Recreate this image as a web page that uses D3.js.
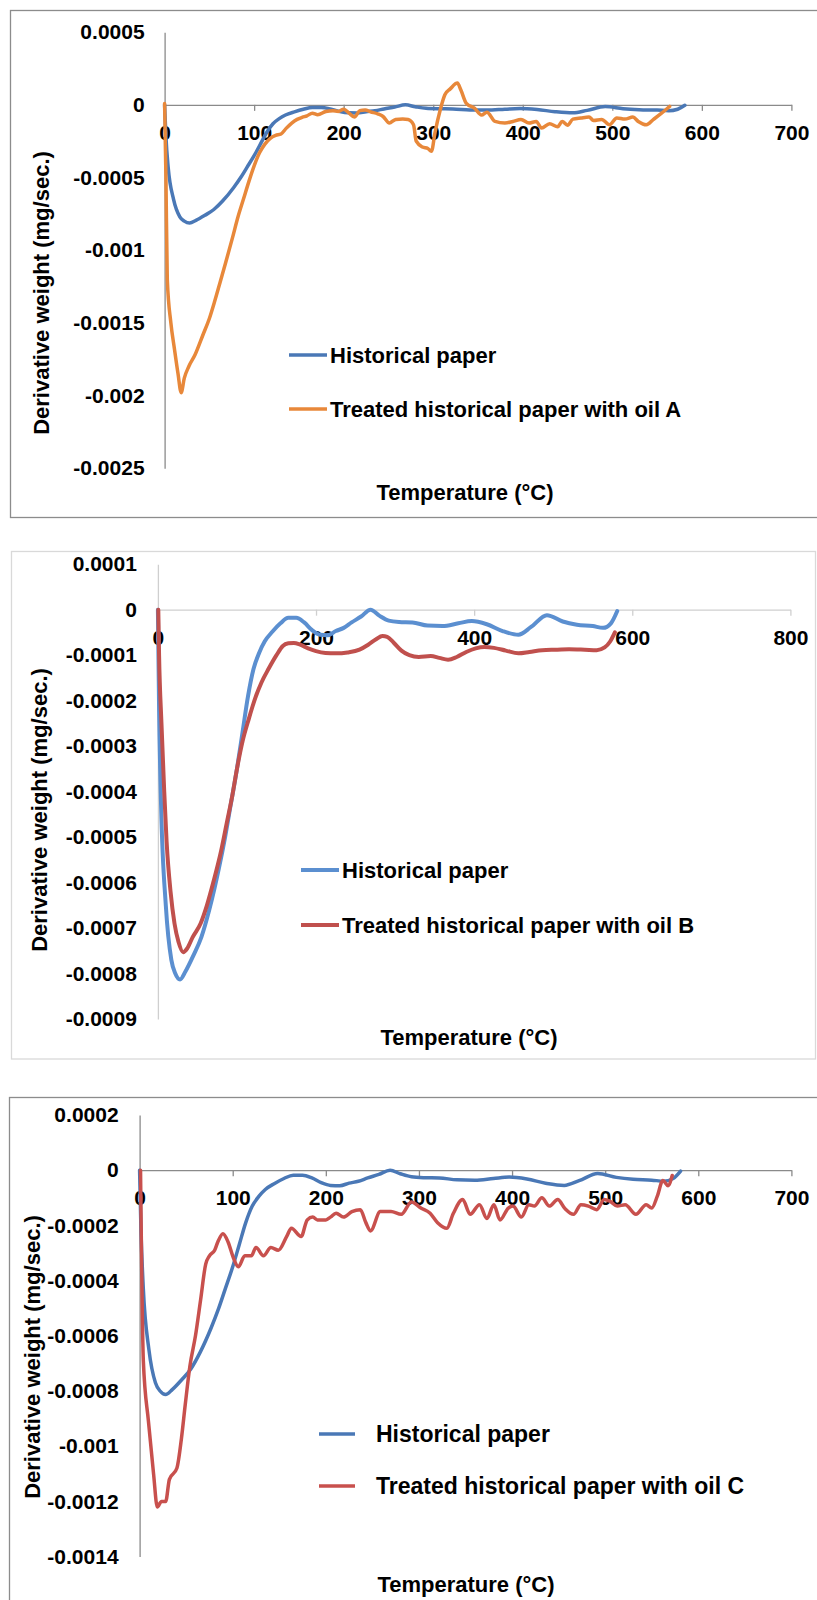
<!DOCTYPE html>
<html>
<head>
<meta charset="utf-8">
<script src="https://cdn.jsdelivr.net/npm/d3@7"></script>
<style>
  html, body { margin: 0; padding: 0; background: #fff; }
  svg text { font-family: "Liberation Sans", Arial, sans-serif; font-weight: bold; fill: #000; }
</style>
</head>
<body>
<svg id="chart" width="817" height="1600"></svg>
<script>
// ---------------- DATA ----------------
// Historical paper (untreated) DTG curve: [temperature °C, derivative weight mg/s]
const historical = [[0,0],[1.5,-0.00022],[4,-0.00043],[10,-0.00065],[17,-0.00077],[22,-0.0008],[28,-0.000813],[35,-0.000795],[45,-0.00076],[55,-0.00072],[65,-0.00066],[77,-0.00057],[85,-0.0005],[92,-0.00043],[100,-0.00035],[107,-0.00027],[114,-0.00019],[121,-0.00013],[128,-0.000095],[135,-0.00007],[145,-0.000048],[155,-0.00003],[165,-0.000018],[175,-0.000018],[185,-0.000028],[195,-0.000045],[205,-0.000055],[215,-0.000056],[225,-0.000047],[235,-0.00004],[245,-0.000028],[257,-0.000015],[269,0],[280,-0.000013],[292,-0.000024],[305,-0.000027],[322,-0.000028],[341,-0.000035],[360,-0.000036],[380,-0.00003],[397,-0.000025],[416,-0.000032],[436,-0.000047],[456,-0.000055],[472,-0.000038],[492,-0.000012],[512,-0.000026],[530,-0.000033],[550,-0.000036],[563,-0.00004],[573,-0.00003],[581,-0.000003]];

// Treated historical paper with oil A
const oilA = [[0,0.00001],[1.5,-0.0005],[3,-0.0012],[7,-0.0015],[11,-0.00168],[15,-0.00185],[18.5,-0.00198],[22,-0.00188],[27,-0.0018],[34,-0.00172],[43,-0.00158],[50,-0.00147],[56,-0.00135],[62,-0.00122],[68,-0.00109],[76,-0.00091],[82,-0.00077],[88,-0.00065],[94,-0.00053],[100,-0.00042],[106,-0.00033],[112,-0.00027],[118,-0.00023],[124,-0.00021],[130,-0.0002],[136,-0.00016],[142,-0.000125],[148,-0.0001],[154,-0.000085],[159,-0.000075],[165,-0.000057],[171,-0.000068],[180,-0.000046],[188,-0.00004],[194,-0.000045],[200,-0.00003],[206,-0.000057],[212,-0.000084],[218,-0.00004],[224,-0.000035],[230,-0.000048],[238,-0.000062],[244,-0.00008],[251,-0.000125],[258,-0.0001],[266,-0.000097],[272,-0.0001],[278,-0.000137],[281,-0.00025],[288,-0.00029],[294,-0.0003],[298,-0.00032],[302,-0.00019],[308,-0.00003],[313,0.00007],[319,0.00011],[327,0.00015],[331,0.0001],[337,0.00001],[346,-0.000023],[354,-0.00007],[360,-0.00005],[369,-0.000114],[380,-0.000125],[389,-0.000114],[398,-0.0001],[407,-0.000125],[415,-0.000114],[421,-0.00016],[430,-0.00013],[439,-0.00015],[444,-0.000114],[450,-0.00014],[456,-0.000098],[465,-0.00009],[474,-0.000084],[479,-0.000107],[488,-0.0001],[497,-0.000137],[505,-0.00009],[514,-0.000098],[523,-0.000084],[529,-0.000114],[538,-0.000137],[546,-0.0001],[555,-0.000057],[564,-0.000011]];

// Treated historical paper with oil B
const oilB = [[0.5,0],[1.5,-0.0001],[4.5,-0.00025],[8,-0.0004],[11,-0.00051],[16,-0.00062],[21,-0.00069],[26,-0.00073],[32,-0.000753],[37,-0.000745],[44,-0.00072],[54,-0.00069],[62,-0.00065],[70,-0.0006],[80,-0.00053],[87,-0.00047],[94,-0.00041],[100,-0.00035],[107,-0.00029],[115,-0.00024],[123,-0.000195],[131,-0.00016],[140,-0.00013],[150,-0.0001],[158,-0.00008],[165,-0.000074],[172,-0.000073],[180,-0.000077],[190,-0.000085],[200,-0.000091],[212,-0.000095],[225,-0.000096],[240,-0.000094],[255,-0.000088],[266,-0.000077],[276,-0.000065],[284,-0.000058],[290,-0.00006],[298,-0.000072],[308,-0.00009],[318,-0.0001],[330,-0.000104],[345,-0.000102],[356,-0.000106],[367,-0.00011],[378,-0.000104],[390,-0.000093],[402,-0.000085],[413,-0.000082],[425,-0.000084],[440,-0.00009],[456,-0.000096],[470,-0.000093],[486,-0.000089],[505,-0.000088],[520,-0.000087],[540,-0.000088],[555,-0.000089],[565,-0.000083],[572,-0.00007],[578,-0.00005]];

// Treated historical paper with oil C
const oilC = [[1,0],[4,-0.00069],[9.5,-0.00091],[15,-0.0011],[19,-0.00122],[23.5,-0.0012],[28,-0.0012],[32,-0.00112],[40,-0.00108],[45,-0.00097],[49,-0.00085],[54,-0.00071],[60,-0.0006],[65.5,-0.00047],[71,-0.00034],[75,-0.00031],[80.6,-0.00029],[84,-0.00026],[89.5,-0.00023],[95,-0.00026],[101,-0.00032],[106,-0.00035],[113,-0.00031],[120,-0.00031],[125,-0.00028],[133,-0.00031],[141,-0.00028],[149,-0.00029],[158,-0.00024],[163,-0.00021],[173.5,-0.00024],[180,-0.00018],[186,-0.00017],[191,-0.00018],[200,-0.00018],[205,-0.00017],[211,-0.000156],[219,-0.00017],[228,-0.00015],[237,-0.000143],[243,-0.00019],[248,-0.00022],[258.5,-0.00015],[270,-0.00015],[281,-0.00016],[292,-0.000115],[302,-0.000137],[312,-0.000156],[320,-0.00019],[330,-0.00021],[337,-0.000156],[347,-0.000106],[355,-0.00016],[365,-0.000125],[373,-0.000175],[380.5,-0.000125],[387,-0.00018],[396,-0.000137],[401,-0.00013],[410,-0.00017],[418,-0.000125],[424,-0.00013],[432,-0.0001],[440,-0.00013],[449,-0.000106],[457,-0.00014],[466,-0.00016],[474,-0.000125],[482,-0.00013],[491,-0.000143],[499,-0.000106],[505,-0.000112],[513,-0.00013],[521.5,-0.000125],[533,-0.00016],[544,-0.000125],[550,-0.000137],[556,-0.000094],[562,-0.000037],[567.5,-0.000056],[572,-0.000019]];

// Tick labels
const xTicks1 = [0,100,200,300,400,500,600,700];
const yTicks1 = [0.0005,0,-0.0005,-0.001,-0.0015,-0.002,-0.0025];
const yLabels1 = ["0.0005","0","-0.0005","-0.001","-0.0015","-0.002","-0.0025"];
const xTicks2 = [0,200,400,600,800];
const yTicks2 = [0.0001,0,-0.0001,-0.0002,-0.0003,-0.0004,-0.0005,-0.0006,-0.0007,-0.0008,-0.0009];
const yLabels2 = ["0.0001","0","-0.0001","-0.0002","-0.0003","-0.0004","-0.0005","-0.0006","-0.0007","-0.0008","-0.0009"];
const xTicks3 = [0,100,200,300,400,500,600,700];
const yTicks3 = [0.0002,0,-0.0002,-0.0004,-0.0006,-0.0008,-0.001,-0.0012,-0.0014];
const yLabels3 = ["0.0002","0","-0.0002","-0.0004","-0.0006","-0.0008","-0.001","-0.0012","-0.0014"];

const seriesNames1 = ["Historical paper","Treated historical paper with oil A"];
const seriesNames2 = ["Historical paper","Treated historical paper with oil B"];
const seriesNames3 = ["Historical paper","Treated historical paper with oil C"];
const xTitle = "Temperature (°C)";
const yTitle = "Derivative weight (mg/sec.)";

// ---------------- DRAW ----------------
const svg = d3.select("#chart");

function drawPanel(c) {
  const g = svg.append("g");
  // frame
  g.append("rect")
    .attr("x", c.frame[0]).attr("y", c.frame[1])
    .attr("width", c.frame[2]).attr("height", c.frame[3])
    .attr("fill", "none").attr("stroke", c.frameColor).attr("stroke-width", 1.3);

  const x = d3.scaleLinear().domain(c.xDomain).range(c.xRange);
  const y = d3.scaleLinear().domain(c.yDomain).range(c.yRange);

  // y axis (labels only, no ticks)
  const yAxis = d3.axisLeft(y).tickValues(c.yTicks)
    .tickFormat((d, i) => c.yLabels[i]).tickSize(0).tickPadding(c.yPad);
  const ya = g.append("g").attr("transform", `translate(${x(0)},0)`).call(yAxis);
  ya.select(".domain").attr("stroke", c.axisColor).attr("stroke-width", 1.3);
  ya.selectAll("text").attr("font-size", c.tickFont)
    .attr("font-family", '"Liberation Sans", Arial, sans-serif').attr("font-weight", "bold").attr("fill", "#000");

  // x axis along y=0
  const xAxis = d3.axisBottom(x).tickValues(c.xTicks).tickFormat(d3.format("d"))
    .tickSize(6).tickSizeOuter(0).tickPadding(14);
  const xa = g.append("g").attr("transform", `translate(0,${y(0)})`).call(xAxis);
  xa.select(".domain").attr("stroke", c.axisColor).attr("stroke-width", 1.3);
  xa.selectAll(".tick line").attr("stroke", c.axisColor).attr("stroke-width", 1.3);
  xa.selectAll("text").attr("font-size", c.tickFont)
    .attr("font-family", '"Liberation Sans", Arial, sans-serif').attr("font-weight", "bold").attr("fill", "#000");

  // series lines
  const line = d3.line().x(d => x(d[0])).y(d => y(d[1])).curve(d3.curveMonotoneX);
  c.series.forEach(s => {
    g.append("path").datum(s.data)
      .attr("d", line).attr("fill", "none")
      .attr("stroke", s.color).attr("stroke-width", c.lineWidth)
      .attr("stroke-linejoin", "round").attr("stroke-linecap", "round");
  });

  // legend
  c.series.forEach((s, i) => {
    const ly = c.legend.y[i];
    g.append("line")
      .attr("x1", c.legend.x1).attr("x2", c.legend.x2)
      .attr("y1", ly).attr("y2", ly)
      .attr("stroke", s.color).attr("stroke-width", c.lineWidth);
    g.append("text")
      .attr("x", c.legend.tx).attr("y", ly).attr("dy", "0.35em")
      .attr("font-size", c.legendFont).text(s.name);
  });

  // axis titles
  g.append("text").attr("x", c.xTitle[0]).attr("y", c.xTitle[1]).attr("dy", "0.35em")
    .attr("text-anchor", "middle").attr("font-size", c.titleFont).text(xTitle);
  g.append("text")
    .attr("transform", `translate(${c.yTitle[0]},${c.yTitle[1]}) rotate(-90)`)
    .attr("dy", "0.35em").attr("text-anchor", "middle")
    .attr("font-size", c.titleFont).text(yTitle);
}

// Panel 1: oil A
drawPanel({
  frame: [10.5, 10.5, 830, 507], frameColor: "#8c8c8c", axisColor: "#8a8a8a",
  xDomain: [0, 700], xRange: [164.6, 791.4],
  yDomain: [-0.0025, 0.0005], yRange: [468.2, 32.2],
  xTicks: xTicks1, yTicks: yTicks1, yLabels: yLabels1, yPad: 20,
  tickFont: 21, legendFont: 22, titleFont: 22, lineWidth: 3.5,
  series: [
    { name: seriesNames1[0], data: historical, color: "#4a78b6" },
    { name: seriesNames1[1], data: oilA, color: "#e8883a" }
  ],
  legend: { x1: 289, x2: 327, tx: 330, y: [355, 409] },
  xTitle: [465, 492], yTitle: [41, 293]
});

// Panel 2: oil B
drawPanel({
  frame: [11.5, 551.5, 804, 507.5], frameColor: "#d9d9d9", axisColor: "#cfcfcf",
  xDomain: [0, 800], xRange: [157.9, 790.4],
  yDomain: [-0.0009, 0.0001], yRange: [1019, 564.2],
  xTicks: xTicks2, yTicks: yTicks2, yLabels: yLabels2, yPad: 21,
  tickFont: 21, legendFont: 22, titleFont: 22, lineWidth: 4,
  series: [
    { name: seriesNames2[0], data: historical, color: "#5b8fd0" },
    { name: seriesNames2[1], data: oilB, color: "#c0504d" }
  ],
  legend: { x1: 301, x2: 339, tx: 342, y: [870, 925] },
  xTitle: [469, 1037], yTitle: [39, 810]
});

// Panel 3: oil C
drawPanel({
  frame: [9.5, 1097.5, 830, 520], frameColor: "#8c8c8c", axisColor: "#8a8a8a",
  xDomain: [0, 700], xRange: [139.6, 791.4],
  yDomain: [-0.0014, 0.0002], yRange: [1556.6, 1115],
  xTicks: xTicks3, yTicks: yTicks3, yLabels: yLabels3, yPad: 21,
  tickFont: 21, legendFont: 23, titleFont: 22, lineWidth: 3.5,
  series: [
    { name: seriesNames3[0], data: historical, color: "#4a78b6" },
    { name: seriesNames3[1], data: oilC, color: "#c8504d" }
  ],
  legend: { x1: 319, x2: 355, tx: 376, y: [1434, 1486] },
  xTitle: [466, 1584], yTitle: [32, 1357]
});
</script>
</body>
</html>
